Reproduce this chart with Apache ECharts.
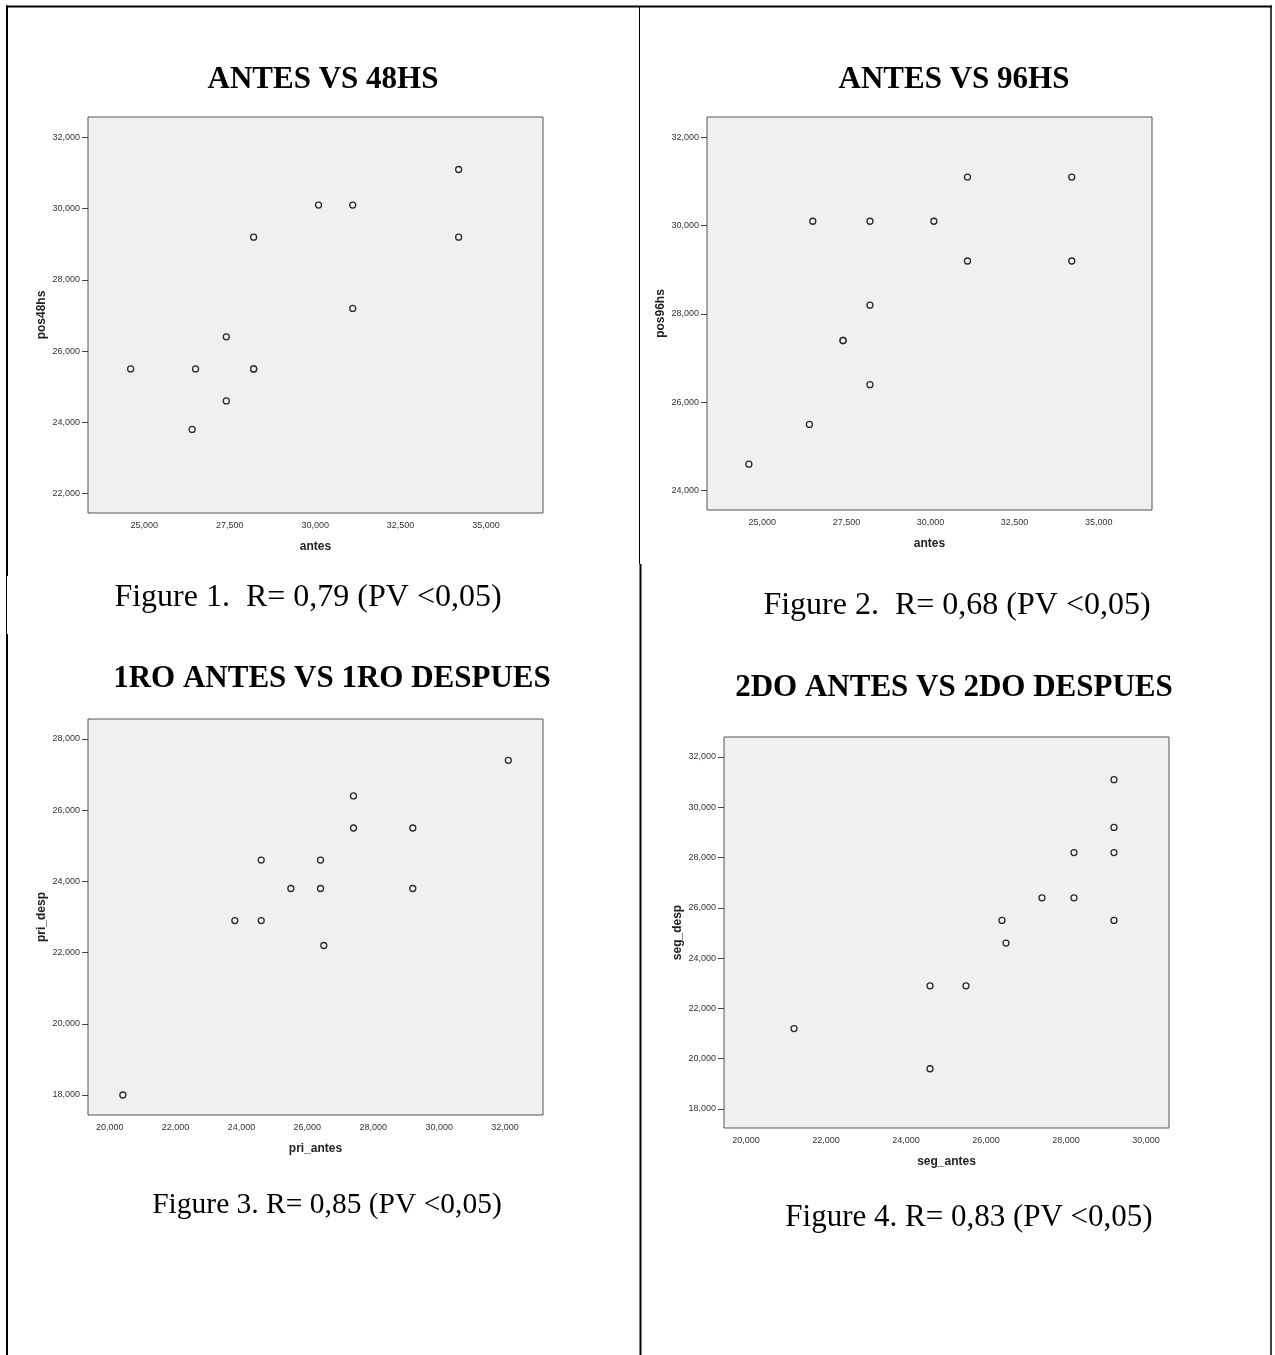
<!DOCTYPE html>
<html>
<head>
<meta charset="utf-8">
<script src="https://cdn.jsdelivr.net/npm/echarts@6/dist/echarts.min.js"></script>
<style>
  html, body { margin: 0; padding: 0; background: #fff; }
  #chart { width: 1275px; height: 1355px; }
</style>
</head>
<body>
<div id="chart"></div>
<script>
// ---- Data ----
const titles = ['ANTES VS 48HS', 'ANTES VS 96HS', '1RO ANTES VS 1RO DESPUES', '2DO ANTES VS 2DO DESPUES'];
const captions = ['Figure 1.  R= 0,79 (PV <0,05)', 'Figure 2.  R= 0,68 (PV <0,05)', 'Figure 3. R= 0,85 (PV <0,05)', 'Figure 4. R= 0,83 (PV <0,05)'];
const xNames = ['antes', 'antes', 'pri_antes', 'seg_antes'];
const yNames = ['pos48hs', 'pos96hs', 'pri_desp', 'seg_desp'];

const antes48 = [24600, 26500, 26400, 27400, 27400, 28200, 28200, 28200, 30100, 31100, 31100, 34200, 34200];
const pos48hs = [25500, 25500, 23800, 26400, 24600, 25500, 25500, 29200, 30100, 30100, 27200, 31100, 29200];

const antes96 = [24600, 26400, 26500, 27400, 27400, 28200, 28200, 28200, 30100, 31100, 31100, 34200, 34200];
const pos96hs = [24600, 25500, 30100, 27400, 27400, 30100, 28200, 26400, 30100, 31100, 29200, 31100, 29200];

const priAntes = [20400, 23800, 24600, 24600, 25500, 26400, 26400, 26500, 27400, 27400, 29200, 29200, 32100];
const priDesp  = [18000, 22900, 22900, 24600, 23800, 23800, 24600, 22200, 25500, 26400, 25500, 23800, 27400];

const segAntes = [21200, 24600, 24600, 25500, 26400, 26500, 27400, 28200, 28200, 29200, 29200, 29200, 29200];
const segDesp  = [21200, 22900, 19600, 22900, 25500, 24600, 26400, 26400, 28200, 31100, 29200, 28200, 25500];

const xTicks1 = [25000, 27500, 30000, 32500, 35000];
const yTicks1 = [22000, 24000, 26000, 28000, 30000, 32000];
const xTicks2 = [25000, 27500, 30000, 32500, 35000];
const yTicks2 = [24000, 26000, 28000, 30000, 32000];
const xTicks3 = [20000, 22000, 24000, 26000, 28000, 30000, 32000];
const yTicks3 = [18000, 20000, 22000, 24000, 26000, 28000];
const xTicks4 = [20000, 22000, 24000, 26000, 28000, 30000];
const yTicks4 = [18000, 20000, 22000, 24000, 26000, 28000, 30000, 32000];

const xs = [antes48, antes96, priAntes, segAntes];
const ys = [pos48hs, pos96hs, priDesp, segDesp];
const xTicks = [xTicks1, xTicks2, xTicks3, xTicks4];
const yTicks = [yTicks1, yTicks2, yTicks3, yTicks4];

// ---- Layout (positions/styles) ----
const grids = [
  { left: 88,  top: 117, width: 455, height: 396 },
  { left: 707, top: 117, width: 445, height: 393 },
  { left: 88,  top: 719, width: 455, height: 396 },
  { left: 724, top: 737, width: 445, height: 391 }
];
const xRanges = [[23352, 36669], [23355, 36586], [19343, 33152], [19449, 30576]];
const yRanges = [[21454, 32574], [23562, 32461], [17438, 28562], [17244, 32796]];
const titlePos = [[323, 80], [954, 80], [332, 679], [954, 688]];
const captionPos = [[308, 598], [957, 606], [327, 1205], [969, 1218]];
const captionSize = [32, 32, 29.5, 31];

const fmt = v => String(v).replace(/\B(?=(\d{3})+(?!\d))/g, ',');

const chart = echarts.init(document.getElementById('chart'), null, { renderer: 'canvas' });

const gridOpts = grids.map(g => Object.assign({
  show: true, backgroundColor: '#f0f0f0', borderColor: '#555', borderWidth: 1, containLabel: false
}, g));

const xAxes = xs.map((_, i) => ({
  type: 'value', gridIndex: i,
  min: xRanges[i][0], max: xRanges[i][1],
  axisLine: { show: false },
  axisTick: { show: false },
  splitLine: { show: false },
  axisLabel: { customValues: xTicks[i], formatter: fmt, fontSize: 9, color: '#333', margin: 8, fontFamily: 'Liberation Sans, Arial' },
  name: xNames[i], nameLocation: 'middle', nameGap: 28,
  nameTextStyle: { fontWeight: 'bold', fontSize: 12, color: '#222', fontFamily: 'Liberation Sans, Arial' }
}));

const yAxes = ys.map((_, i) => ({
  type: 'value', gridIndex: i,
  min: yRanges[i][0], max: yRanges[i][1],
  axisLine: { show: false },
  axisTick: { show: true, customValues: yTicks[i], length: 6, lineStyle: { color: '#444', width: 1 } },
  splitLine: { show: false },
  axisLabel: { customValues: yTicks[i], formatter: fmt, fontSize: 9, color: '#333', margin: 8, fontFamily: 'Liberation Sans, Arial' },
  name: yNames[i], nameLocation: 'middle', nameGap: 40,
  nameTextStyle: { fontWeight: 'bold', fontSize: 12, color: '#222', fontFamily: 'Liberation Sans, Arial' }
}));

const series = xs.map((xArr, i) => ({
  type: 'scatter', xAxisIndex: i, yAxisIndex: i,
  data: xArr.map((x, k) => [x, ys[i][k]]),
  symbol: 'circle', symbolSize: 6,
  itemStyle: { color: '#f4f4f4', borderColor: '#2a2a2a', borderWidth: 1.3, opacity: 1 },
  silent: true, animation: false
}));

const graphics = [];
titles.forEach((t, i) => {
  graphics.push({
    type: 'text', x: titlePos[i][0], y: titlePos[i][1], silent: true,
    style: { text: t, align: 'center', verticalAlign: 'middle', fill: '#000',
      font: 'bold 31px "Liberation Serif", "Times New Roman", serif' }
  });
});
captions.forEach((t, i) => {
  graphics.push({
    type: 'text', x: captionPos[i][0], y: captionPos[i][1], silent: true,
    style: { text: t, align: 'center', verticalAlign: 'middle', fill: '#000',
      font: captionSize[i] + 'px "Liberation Serif", "Times New Roman", serif' }
  });
});
function line(x1, y1, x2, y2, w) {
  graphics.push({ type: 'line', silent: true, shape: { x1, y1, x2, y2 }, style: { stroke: '#000', lineWidth: w } });
}
// table borders
line(6, 6.5, 1272, 6.5, 2);
line(7, 5.5, 7, 576, 2);
line(6.5, 576, 6.5, 634, 1);
line(7, 634, 7, 1355, 2);
line(639.5, 6, 639.5, 564, 1);
line(640.5, 564, 640.5, 1355, 2);
line(1271, 5.5, 1271, 1355, 1.5);

chart.setOption({
  animation: false,
  backgroundColor: '#ffffff',
  grid: gridOpts,
  xAxis: xAxes,
  yAxis: yAxes,
  series: series,
  graphic: graphics
});
</script>
</body>
</html>
